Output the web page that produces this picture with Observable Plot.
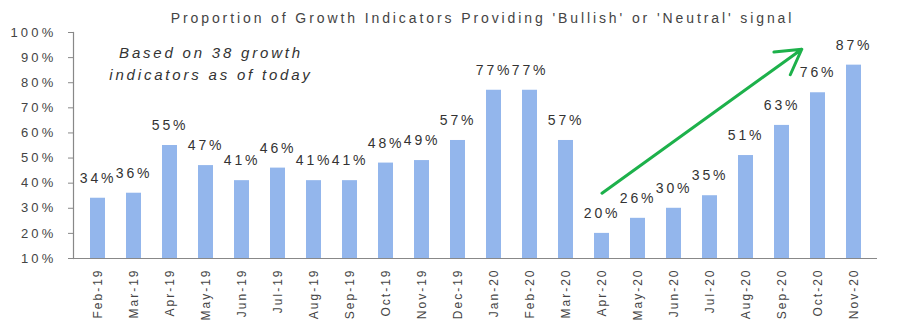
<!DOCTYPE html>
<html><head><meta charset="utf-8">
<script src="https://cdn.jsdelivr.net/npm/d3@7"></script>
<script src="https://cdn.jsdelivr.net/npm/@observablehq/plot@0.6"></script>
<style>
body{margin:0;background:#fff;}
svg{font-family:"Liberation Sans",Arial,sans-serif;}
</style>
</head><body><div id="chart"></div>
<script>
const months = ["Feb-19","Mar-19","Apr-19","May-19","Jun-19","Jul-19","Aug-19","Sep-19","Oct-19","Nov-19","Dec-19","Jan-20","Feb-20","Mar-20","Apr-20","May-20","Jun-20","Jul-20","Aug-20","Sep-20","Oct-20","Nov-20"];
const values = [34,36,55,47,41,46,41,41,48,49,57,77,77,57,20,26,30,35,51,63,76,87];
const yTicks = [10,20,30,40,50,60,70,80,90,100];
const title = "Proportion of Growth Indicators Providing 'Bullish' or 'Neutral' signal";
const noteLines = ["Based on 38 growth", "indicators as of today"];
const noteValues = [91.7, 82.9];
const arrowFrom = {month: "Apr-20", value: 36};
const arrowTo = {month: "Oct-20", value: 98};

const data = months.map((m, i) => ({month: m, value: values[i]}));

const W = 905, ML = 73, MR = 28, PI = 0.59, PO = 0.35;

const chart = Plot.plot({
  width: W,
  height: 323,
  marginLeft: ML,
  marginRight: MR,
  marginTop: 32,
  marginBottom: 65,
  x: {domain: months, paddingInner: PI, paddingOuter: PO, label: null, tickSize: 0, tickPadding: 10, tickRotate: -90},
  y: {domain: [10, 100], ticks: yTicks, tickFormat: d => d + "%", label: null, tickSize: 5, tickPadding: 12},
  style: {fontSize: "12px", color: "#444"},
  marks: [
    Plot.barY(data, {x: "month", y1: 10, y2: "value", fill: "#93b6ec"}),
    Plot.ruleY([10], {stroke: "#888"}),
    Plot.frame({anchor: "left", stroke: "#888", strokeWidth: 1.2}),
    Plot.text(data, {x: "month", y: "value", text: d => d.value + "%", dy: -20, fontSize: 14, fill: "#333", className: "vlabel"}),
    Plot.arrow([{}], {x1: () => arrowFrom.month, y1: () => arrowFrom.value, x2: () => arrowTo.month, y2: () => arrowTo.value, insetEnd: 20, stroke: "#1db14b", strokeWidth: 3, headLength: 14}),
    Plot.text(noteLines, {x: () => "May-19", y: (d, i) => noteValues[i], text: d => d, dx: 5, fontSize: 15, fontStyle: "italic", fill: "#333", className: "note"}),
    Plot.text([title], {frameAnchor: "top", dy: -19, dx: 7, fontSize: 14, fill: "#444", className: "ttl"})
  ]
});
const s = d3.select(chart);
s.selectAll(".vlabel text").style("letter-spacing", "2.8px");
s.selectAll(".note text").style("letter-spacing", "2.8px");
s.selectAll(".ttl text").style("letter-spacing", "2.9px");
s.selectAll("[aria-label='y-axis tick label'] text").style("letter-spacing", "3.2px").style("font-size", "13px");
s.selectAll("[aria-label='x-axis tick label'] text").style("letter-spacing", "2px").style("font-size", "12px");
s.selectAll("[aria-label='y-axis tick'] path").attr("stroke", "#888");
document.getElementById("chart").append(chart);
</script>
</body></html>
